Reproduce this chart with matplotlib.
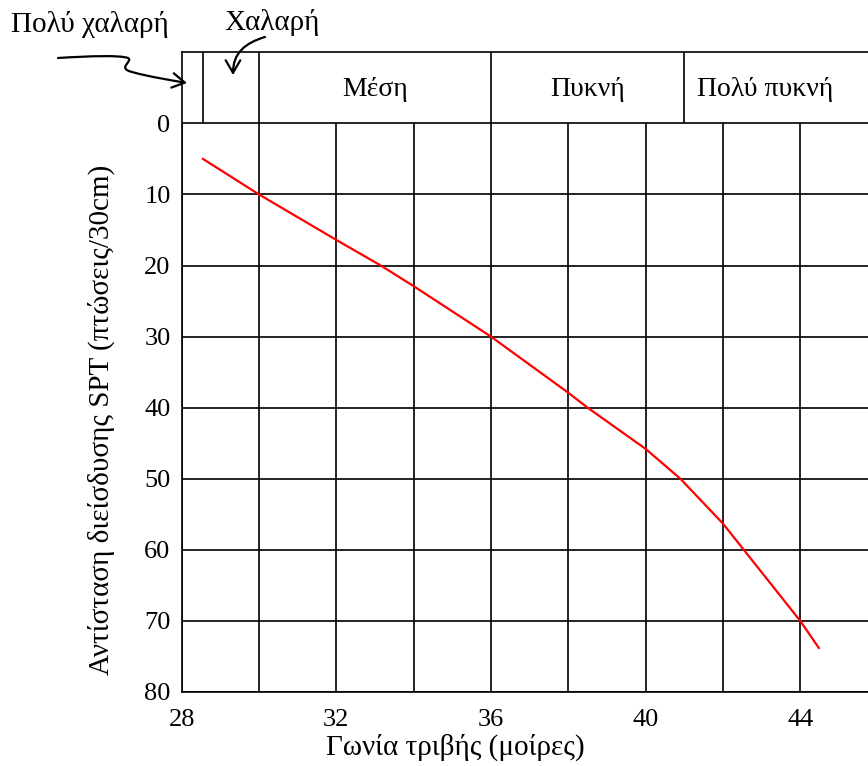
import matplotlib
matplotlib.use("Agg")
import matplotlib.pyplot as plt
from matplotlib.path import Path
from matplotlib.patches import FancyArrowPatch
import numpy as np

plt.rcParams['font.family'] = ['Liberation Serif', 'DejaVu Serif']

# SPT blow count vs friction angle
phi = [28.55, 30.0, 32.0, 33.15, 34.0, 36.0, 38.0, 38.5, 40.0, 40.9, 42.0, 44.0, 44.48]
n_spt = [5.0, 10.0, 16.4, 20.0, 22.9, 30.0, 37.9, 40.0, 45.8, 50.0, 56.3, 70.0, 73.8]

x_ticks = [28, 32, 36, 40, 44]
y_ticks = [0, 10, 20, 30, 40, 50, 60, 70, 80]
x_grid = [28, 30, 32, 34, 36, 38, 40, 42, 44]

# density classes in the header band: (boundary angles, label, label centre)
class_bounds = [28.56, 30, 36, 41]
class_labels = ["Μέση", "Πυκνή", "Πολύ πυκνή"]
class_label_x = [33.0, 38.5, 43.1]

W, H = 868, 766
fig = plt.figure(figsize=(W / 100, H / 100), dpi=100)

def px(x, y):
    return (x / W, 1 - y / H)

ax_left, ax_top, ax_bottom = 181.7, 52.3, 692.0
ax = fig.add_axes([ax_left / W, 1 - ax_bottom / H, 1 - ax_left / W, (ax_bottom - ax_top) / H])

xmax = 28 + (W - ax_left) / 38.66
ax.set_xlim(28, xmax)
ax.set_ylim(80, -10)

lc = "#000000"
lw = 1.2
# grid in the chart body
for g in x_grid:
    ax.plot([g, g], [0, 80], color=lc, lw=lw, zorder=1, solid_capstyle='butt')
for g in y_ticks:
    ax.plot([28, xmax], [g, g], color=lc, lw=lw, zorder=1, solid_capstyle='butt')
# header dividers
for b in class_bounds:
    ax.plot([b, b], [-10, 0], color=lc, lw=lw, zorder=1, solid_capstyle='butt')
for lab, cx in zip(class_labels, class_label_x):
    ax.text(cx, -4.8, lab, ha='center', va='center', fontsize=20)

ax.plot(phi, n_spt, color='#ff0000', lw=1.6, zorder=3)

for s in ['right']:
    ax.spines[s].set_visible(False)
for s in ['left', 'top', 'bottom']:
    ax.spines[s].set_linewidth(lw)

ax.set_xticks(x_ticks)
ax.set_yticks(y_ticks)
ax.tick_params(length=0, labelsize=19)
ax.tick_params(axis='y', pad=8)
ax.tick_params(axis='x', pad=12)

fig.text(*px(455, 747), "Γωνία τριβής (μοίρες)", ha='center', va='center', fontsize=21)
fig.text(*px(101, 420), "Αντίσταση διείσδυσης SPT (πτώσεις/30cm)", ha='center', va='center',
         rotation=90, fontsize=21)

fig.text(*px(90, 25), "Πολύ χαλαρή", ha='center', va='center', fontsize=21)
fig.text(*px(272, 22), "Χαλαρή", ha='center', va='center', fontsize=21)

# hand-drawn pointers to the narrow classes
p1 = Path([px(58, 58), px(90, 56), px(120, 55), px(128, 58),
           px(134, 61), px(116, 68), px(132, 72),
           px(150, 77), px(170, 80), px(187, 83)],
          [Path.MOVETO, Path.CURVE4, Path.CURVE4, Path.CURVE4,
           Path.CURVE4, Path.CURVE4, Path.CURVE4,
           Path.CURVE4, Path.CURVE4, Path.CURVE4])
p2 = Path([px(265, 37), px(245, 43), px(233, 53), px(233, 75)],
          [Path.MOVETO, Path.CURVE4, Path.CURVE4, Path.CURVE4])
for p in (p1, p2):
    arr = FancyArrowPatch(path=p, transform=fig.transFigure, arrowstyle='->,head_length=6,head_width=3.5',
                          lw=1.6, color='black', mutation_scale=1.5)
    fig.add_artist(arr)

fig.savefig("out.png", dpi=100)
